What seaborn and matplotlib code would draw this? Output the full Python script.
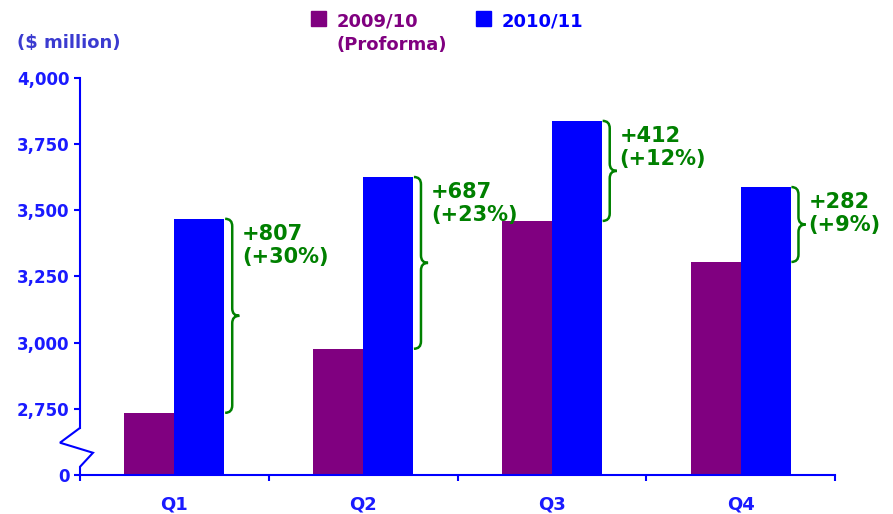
"""Quarterly revenue comparison with broken y-axis."""
import numpy as np
import pandas as pd
import matplotlib
matplotlib.use('Agg')
import matplotlib.pyplot as plt
from matplotlib.path import Path
from matplotlib.patches import PathPatch, Rectangle
import matplotlib.transforms as mtransforms
import seaborn as sns

quarters = ['Q1', 'Q2', 'Q3', 'Q4']
periods = ['2009/10', '2010/11']
prev_values = [2735, 2977, 3460, 3305]
curr_values = [3468, 3626, 3838, 3588]
diff_labels = ['+807', '+687', '+412', '+282']
pct_labels = ['(+30%)', '(+23%)', '(+12%)', '(+9%)']
ytick_values = [2500, 2750, 3000, 3250, 3500, 3750, 4000]
ytick_labels = ['0', '2,750', '3,000', '3,250', '3,500', '3,750', '4,000']

PURPLE = '#800080'
BLUE = '#0000FF'
GREEN = '#008000'
AXIS_BLUE = '#1a1aff'

df = pd.DataFrame({
    'quarter': quarters * 2,
    'period': [periods[0]] * 4 + [periods[1]] * 4,
    'value': prev_values + curr_values,
})

sns.set_style('white')
plt.rcParams['font.family'] = ['DejaVu Sans']

fig = plt.figure(figsize=(8.93, 5.14), dpi=100)
ax = fig.add_axes([80 / 893, 1 - 475 / 514, 755 / 893, 397 / 514])

sns.barplot(data=df, x='quarter', y='value', hue='period',
            palette=[PURPLE, BLUE], width=0.53, saturation=1,
            errorbar=None, legend=False, linewidth=0, ax=ax)

ax.set_xlim(-0.5, 3.5)
ax.set_ylim(2500, 4000)
ax.set_xlabel('')
ax.set_ylabel('')

# axis styling
for side in ['top', 'right']:
    ax.spines[side].set_visible(False)
for side in ['left', 'bottom']:
    ax.spines[side].set_color(BLUE)
    ax.spines[side].set_linewidth(1.5)
ax.spines['left'].set_bounds(2678, 4000)

ax.set_yticks(ytick_values)
ax.set_yticklabels(ytick_labels, fontsize=12, fontweight='bold', color=AXIS_BLUE)
ax.tick_params(axis='y', length=4.5, width=1.5, color=BLUE, direction='out',
               pad=3, left=True)

ax.set_xticks(range(len(quarters)))
ax.set_xticklabels(quarters, fontsize=13, fontweight='bold', color=AXIS_BLUE)
ax.set_xticks(np.arange(-0.5, 4, 1), minor=True)
ax.tick_params(axis='x', which='major', length=0, pad=15)
ax.tick_params(axis='x', which='minor', length=4, width=1.5, color=BLUE,
               direction='out', bottom=True)
ax.grid(False)

# axis break zigzag
trans = mtransforms.blended_transform_factory(ax.transAxes, ax.transData)
ax.plot([0, -0.0265, 0.0172, 0, 0], [2678, 2622, 2584, 2531, 2500],
        color=BLUE, lw=1.5, transform=trans, clip_on=False,
        solid_joinstyle='miter')


def draw_brace(ax, x0, y_lo, y_hi, color):
    w = 0.075
    r = 28
    xm = x0 + w / 2
    mid = (y_lo + y_hi) / 2
    verts = [(x0, y_hi), (xm, y_hi), (xm, y_hi - r),
             (xm, mid + r), (xm, mid), (x0 + w, mid),
             (xm, mid), (xm, mid - r),
             (xm, y_lo + r), (xm, y_lo), (x0, y_lo)]
    codes = [Path.MOVETO, Path.CURVE3, Path.CURVE3,
             Path.LINETO, Path.CURVE3, Path.CURVE3,
             Path.CURVE3, Path.CURVE3,
             Path.LINETO, Path.CURVE3, Path.CURVE3]
    ax.add_patch(PathPatch(Path(verts, codes), fill=False, edgecolor=color,
                           lw=1.8, clip_on=False))


curr_bars = ax.containers[1]
for i, bar in enumerate(curr_bars):
    x_edge = bar.get_x() + bar.get_width() + 0.004
    draw_brace(ax, x_edge, prev_values[i], curr_values[i], GREEN)
    ax.annotate(f'{diff_labels[i]}\n{pct_labels[i]}', xy=(x_edge, curr_values[i]),
                xytext=(17, -5), textcoords='offset pixels',
                ha='left', va='top', fontsize=15, fontweight='bold',
                color=GREEN, linespacing=1.2, annotation_clip=False)

# legend drawn manually
fig.patches.append(Rectangle((311 / 893, 1 - 26 / 514), 15 / 893, 15 / 514,
                             transform=fig.transFigure, color=PURPLE))
fig.patches.append(Rectangle((476 / 893, 1 - 26 / 514), 15 / 893, 15 / 514,
                             transform=fig.transFigure, color=BLUE))
fig.text(337 / 893, 1 - 27 / 514, '2009/10', fontsize=13, fontweight='bold',
         color=PURPLE, va='baseline')
fig.text(337 / 893, 1 - 50 / 514, '(Proforma)', fontsize=13, fontweight='bold',
         color=PURPLE, va='baseline')
fig.text(502 / 893, 1 - 27 / 514, '2010/11', fontsize=13, fontweight='bold',
         color=BLUE, va='baseline')

fig.text(17 / 893, 1 - 43 / 514, '($ million)', fontsize=13, fontweight='bold',
         color='#3b3bd0', va='center')

fig.savefig('out.png', dpi=100)
plt.close(fig)
